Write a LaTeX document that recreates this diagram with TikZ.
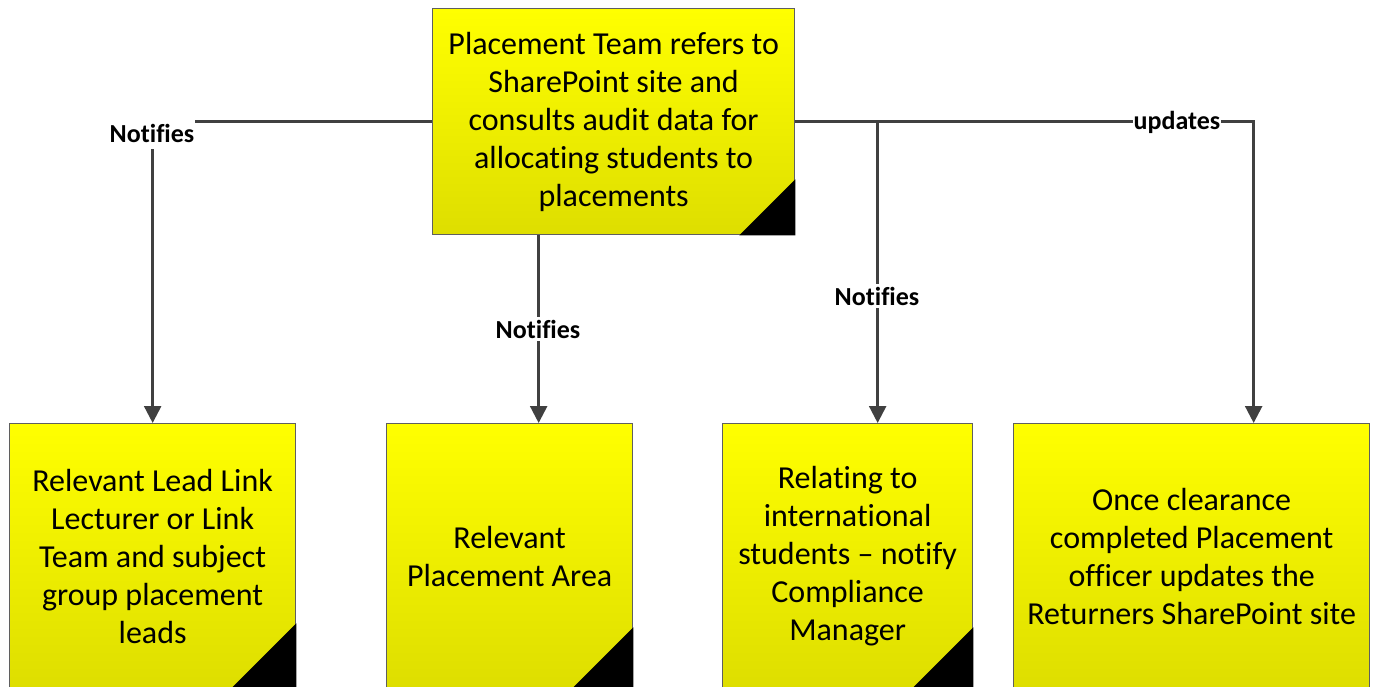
\documentclass[tikz,border=0pt]{standalone}
\usepackage{fontspec}
\setmainfont{Carlito}[Ligatures={CommonOff,ContextualOff}]
\usetikzlibrary{arrows.meta,calc}
\definecolor{ytop}{RGB}{255,255,0}
\definecolor{ybot}{RGB}{222,222,0}
\definecolor{edgegray}{RGB}{95,95,95}
\definecolor{conngray}{RGB}{64,64,64}
\tikzset{
  box/.style={draw=edgegray, line width=1.3pt, top color=ytop, bottom color=ybot,
    anchor=north west, inner sep=0pt, align=center, text=black,
    font=\fontsize{32}{38}\selectfont},
  fold/.style={fill=black},
  conn/.style={draw=conngray, line width=2.5pt},
  arr/.style={conn, -{Triangle[width=17pt,length=17pt]}},
  lbl/.style={fill=white, inner xsep=1pt, inner ysep=3pt, text=black,
    font=\bfseries\fontsize{26}{30}\selectfont}
}
\begin{document}
\begin{tikzpicture}[x=1pt,y=-1pt]
\useasboundingbox (0,0) rectangle (1373,687);
\clip (0,0) rectangle (1373,687);

\node[box, minimum width=362pt, minimum height=226pt] (top) at (432,8)
  {Placement Team refers to\\SharePoint site and\\consults audit data for\\allocating students to\\placements};
\fill[fold] (top.south east) -- ++(-56,0) -- ++(56,-56) -- cycle;

\node[box, minimum width=286pt, minimum height=265pt] (b1) at (9,423)
  {Relevant Lead Link\\Lecturer or Link\\Team and subject\\group placement\\leads};
\fill[fold] (b1.south east) -- ++(-66,0) -- ++(66,-66) -- cycle;

\node[box, minimum width=246pt, minimum height=265pt] (b2) at (386,423)
  {Relevant\\Placement Area};
\fill[fold] (b2.south east) -- ++(-62,0) -- ++(62,-62) -- cycle;

\node[box, minimum width=250pt, minimum height=265pt] (b3) at (722,423)
  {Relating to\\international\\students -- notify\\Compliance\\Manager};
\fill[fold] (b3.south east) -- ++(-62,0) -- ++(62,-62) -- cycle;

\node[box, minimum width=356pt, minimum height=265pt] (b4) at (1013,423)
  {Once clearance\\completed Placement\\officer updates the\\Returners SharePoint site};

\coordinate (t1) at (b1.north);
\coordinate (t2) at ([xshift=29pt]b2.north);
\coordinate (t3) at ([xshift=30pt]b3.north);
\coordinate (t4) at ([xshift=62pt]b4.north);

\draw[arr] (top.west) -| (t1);
\draw[arr] (top.south -| t2) -- (t2);
\draw[arr] (top.east) -| (t4);
\draw[arr] (top.east -| t3) -- (t3);

\node[lbl, minimum height=32pt] (l1) at (152,133) {Notifies};
\node[lbl] (l2) at (538,329) {Notifies};
\node[lbl] (l3) at (877,296) {Notifies};
\node[lbl] (l4) at (1177,122) {updates};
\end{tikzpicture}
\end{document}
